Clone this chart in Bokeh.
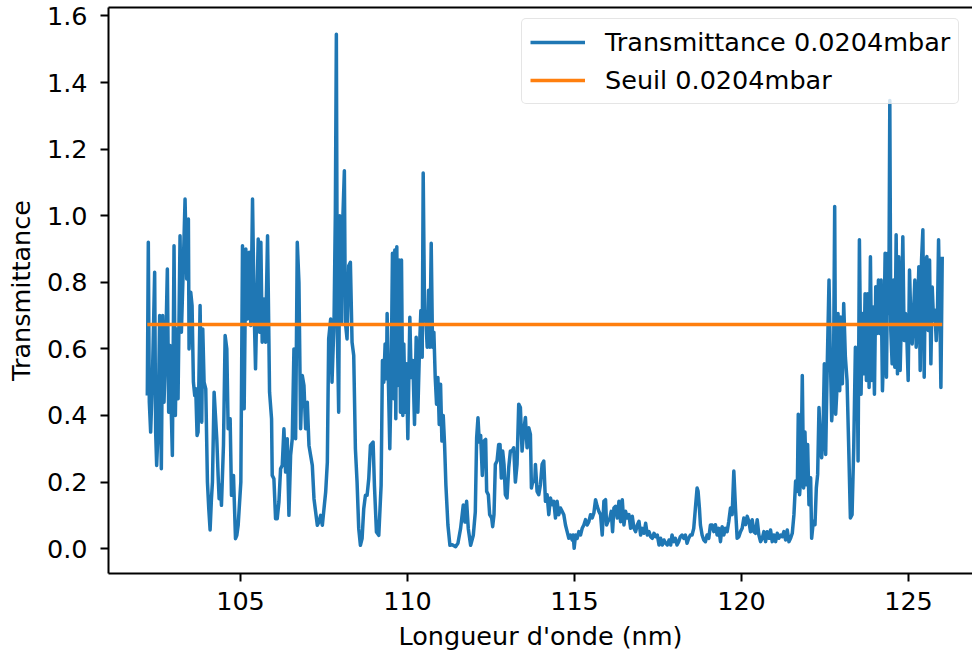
from bokeh.plotting import figure
from bokeh.models import FixedTicker, LinearAxis, Legend, LegendItem, Range1d
from bokeh.embed import file_html
from bokeh.resources import INLINE

# ---- data ----
wavelength_nm = [
    102.21, 102.24, 102.27, 102.31, 102.36, 102.43, 102.46, 102.49, 102.53, 102.58,
    102.63, 102.67, 102.71, 102.76, 102.81, 102.85, 102.89, 102.93, 102.96, 103.01,
    103.05, 103.09, 103.13, 103.19, 103.23, 103.28, 103.34, 103.39, 103.44, 103.46,
    103.51, 103.55, 103.59, 103.63, 103.66, 103.70, 103.73, 103.79, 103.84, 103.87,
    103.91, 103.96, 104.01, 104.05, 104.09, 104.13, 104.16, 104.21, 104.25, 104.29,
    104.33, 104.36, 104.40, 104.43, 104.49, 104.54, 104.59, 104.63, 104.69, 104.73,
    104.79, 104.85, 104.89, 104.93, 105.01, 105.06, 105.11, 105.16, 105.21, 105.26,
    105.31, 105.36, 105.41,
    105.45, 105.53, 105.57, 105.61, 105.65, 105.70, 105.75, 105.81, 105.85, 105.87,
    105.93, 105.95, 106.00, 106.05, 106.10, 106.15, 106.20, 106.25, 106.30, 106.35,
    106.40, 106.45, 106.50, 106.55, 106.60, 106.65, 106.70, 106.75, 106.80, 106.85,
    106.90, 106.95, 107.00, 107.05, 107.10, 107.15, 107.20, 107.25, 107.30, 107.35,
    107.40, 107.45, 107.50, 107.55, 107.60, 107.64, 107.70, 107.74, 107.80, 107.84,
    107.87, 107.90, 107.94, 107.97, 108.02, 108.06, 108.11, 108.14, 108.19, 108.24,
    108.29, 108.34, 108.39, 108.44, 108.49, 108.54, 108.59, 108.64, 108.69, 108.74,
    108.79, 108.84,
    108.89, 108.97, 109.01, 109.07, 109.14, 109.21, 109.25, 109.29, 109.33, 109.37,
    109.39, 109.43, 109.47, 109.51, 109.55, 109.59, 109.62, 109.65, 109.68, 109.71,
    109.75, 109.79, 109.82, 109.86, 109.89, 109.93, 109.97, 110.01, 110.07, 110.11,
    110.16, 110.21, 110.26, 110.31, 110.36, 110.40, 110.44, 110.47, 110.51, 110.55,
    110.59, 110.63, 110.67, 110.71, 110.75, 110.79, 110.83, 110.87, 110.91, 110.95,
    110.99, 111.03, 111.07, 111.11, 111.15, 111.21, 111.27, 111.34, 111.44, 111.51,
    111.59, 111.67, 111.72, 111.77, 111.82, 111.89, 111.97, 112.03, 112.07, 112.11,
    112.15, 112.19, 112.24, 112.29,
    112.34, 112.37, 112.42, 112.46, 112.52, 112.55, 112.59, 112.63, 112.68, 112.73,
    112.77, 112.81, 112.85, 112.89, 112.93, 112.98, 113.03, 113.08, 113.13, 113.18,
    113.23, 113.28, 113.33, 113.38, 113.43, 113.48, 113.53, 113.58, 113.63, 113.68,
    113.71, 113.75, 113.81, 113.83, 113.88, 113.93, 113.98, 114.03, 114.08, 114.13,
    114.18, 114.23, 114.28, 114.33, 114.38, 114.43, 114.48, 114.53, 114.58, 114.63,
    114.68, 114.73, 114.78, 114.83, 114.88, 114.93, 114.96, 114.99, 115.03, 115.08,
    115.13, 115.18, 115.23, 115.28, 115.33, 115.38, 115.43, 115.48, 115.53, 115.58,
    115.63, 115.68, 115.73,
    115.78, 115.83, 115.88, 115.93, 115.96, 116.00, 116.06, 116.10, 116.14, 116.18,
    116.23, 116.28, 116.33, 116.38, 116.43, 116.48, 116.53, 116.58, 116.63, 116.68,
    116.73, 116.78, 116.83, 116.88, 116.93, 116.98, 117.03, 117.08, 117.13, 117.18,
    117.23, 117.28, 117.33, 117.38, 117.43, 117.48, 117.53, 117.58, 117.63, 117.68,
    117.73, 117.78, 117.83, 117.88, 117.92, 117.97, 118.02, 118.07, 118.12, 118.17,
    118.22, 118.27, 118.32, 118.37, 118.42, 118.47, 118.52, 118.57, 118.62, 118.67,
    118.70, 118.74, 118.77, 118.82, 118.87, 118.92, 118.97, 119.02, 119.07, 119.12,
    119.17,
    119.22, 119.27, 119.32, 119.37, 119.42, 119.47, 119.52, 119.57, 119.62, 119.67,
    119.72, 119.77, 119.82, 119.87, 119.92, 119.97, 120.02, 120.07, 120.12, 120.17,
    120.22, 120.27, 120.32, 120.37, 120.42, 120.47, 120.52, 120.57, 120.62, 120.67,
    120.72, 120.77, 120.82, 120.87, 120.92, 120.97, 121.02, 121.07, 121.12, 121.17,
    121.22, 121.27, 121.32, 121.37, 121.42, 121.47, 121.52, 121.57, 121.62, 121.67,
    121.70, 121.74, 121.78, 121.82, 121.86, 121.90, 121.94, 121.98, 122.02, 122.07,
    122.10, 122.15, 122.20, 122.24, 122.28, 122.32, 122.37, 122.40, 122.44, 122.48,
    122.52, 122.57, 122.62, 122.65,
    122.70, 122.75, 122.79, 122.82, 122.85, 122.89, 122.94, 122.97, 123.02, 123.06,
    123.11, 123.16, 123.21, 123.26, 123.31, 123.36, 123.41, 123.46, 123.49, 123.53,
    123.58, 123.62, 123.66, 123.70, 123.74, 123.78, 123.82, 123.86, 123.90, 123.94,
    123.98, 124.02, 124.06, 124.10, 124.14, 124.18, 124.22, 124.26, 124.30, 124.34,
    124.38, 124.41, 124.44, 124.47, 124.51, 124.55, 124.59, 124.63, 124.67, 124.71,
    124.75, 124.79, 124.83, 124.87, 124.91, 124.95, 124.99, 125.03, 125.07, 125.11,
    125.15, 125.19, 125.23, 125.27, 125.31, 125.35, 125.39, 125.43, 125.47, 125.51,
    125.55, 125.59, 125.63, 125.67, 125.71, 125.75, 125.79, 125.83, 125.87, 125.90,
    125.94, 125.97, 126.01,
]

transmittance = [
    0.46, 0.92, 0.44, 0.35, 0.50, 0.83, 0.35, 0.25, 0.35, 0.70,
    0.24, 0.70, 0.44, 0.60, 0.84, 0.41, 0.61, 0.40, 0.28, 0.91,
    0.40, 0.66, 0.45, 0.94, 0.65, 0.82, 1.05, 0.81, 0.99, 0.60,
    0.77, 0.73, 0.50, 0.46, 0.48, 0.34, 0.35, 0.73, 0.38, 0.66,
    0.50, 0.48, 0.20, 0.12, 0.056, 0.15, 0.20, 0.47, 0.40, 0.33,
    0.22, 0.15, 0.19, 0.13, 0.31, 0.64, 0.60, 0.36, 0.39, 0.16,
    0.22, 0.03, 0.04, 0.07, 0.20, 0.91, 0.42, 0.90, 0.69, 0.89,
    0.67, 1.05, 0.71,
    0.54, 0.93, 0.65, 0.92, 0.62, 0.75, 0.62, 0.94, 0.63, 0.47,
    0.39, 0.22, 0.21, 0.09, 0.09, 0.14, 0.24, 0.25, 0.36, 0.23,
    0.33, 0.10, 0.28, 0.33, 0.60, 0.33, 0.92, 0.80, 0.36, 0.52,
    0.49, 0.36, 0.44, 0.31, 0.28, 0.25, 0.15, 0.11, 0.07, 0.08,
    0.10, 0.07, 0.12, 0.17, 0.26, 0.63, 0.69, 0.50, 0.68, 1.01,
    1.545, 0.65, 0.41, 1.00, 0.68, 0.98, 1.135, 0.68, 0.63, 0.85,
    0.86, 0.62, 0.58, 0.30, 0.20, 0.06, 0.01, 0.03, 0.12, 0.16,
    0.16, 0.21,
    0.31, 0.32, 0.19, 0.05, 0.04, 0.19, 0.565, 0.50, 0.615, 0.51,
    0.706, 0.494, 0.30, 0.51, 0.887, 0.45, 0.897, 0.39, 0.907, 0.49,
    0.867, 0.41, 0.867, 0.40, 0.615, 0.41, 0.555, 0.33, 0.695, 0.514,
    0.565, 0.373, 0.635, 0.41, 0.605, 0.715, 0.575, 1.128, 0.715, 0.685,
    0.605, 0.776, 0.605, 0.917, 0.605, 0.65, 0.514, 0.434, 0.514, 0.373,
    0.494, 0.323, 0.40, 0.313, 0.19, 0.071, 0.01, 0.012, 0.006, 0.016,
    0.061, 0.131, 0.08, 0.142, 0.06, 0.01, 0.04, 0.11, 0.333, 0.393,
    0.32, 0.34, 0.22, 0.323,
    0.328, 0.172, 0.162, 0.102, 0.092, 0.066, 0.102, 0.253, 0.263, 0.313,
    0.313, 0.212, 0.293, 0.253, 0.162, 0.152, 0.243, 0.293, 0.293, 0.303,
    0.20, 0.253, 0.434, 0.424, 0.293, 0.354, 0.394, 0.303, 0.363, 0.343,
    0.182, 0.202, 0.202, 0.253, 0.172, 0.162, 0.192, 0.253, 0.263, 0.142,
    0.162, 0.102, 0.152, 0.132, 0.142, 0.092, 0.142, 0.102, 0.122, 0.112,
    0.102, 0.071, 0.051, 0.031, 0.041, 0.026, 0.041, 0.001, 0.041, 0.031,
    0.051, 0.041, 0.061, 0.071, 0.087, 0.071, 0.081, 0.102, 0.092, 0.107,
    0.147, 0.127, 0.112,
    0.102, 0.041, 0.142, 0.147, 0.071, 0.081, 0.092, 0.112, 0.051, 0.122,
    0.127, 0.092, 0.142, 0.081, 0.147, 0.071, 0.112, 0.092, 0.102, 0.061,
    0.097, 0.061, 0.051, 0.071, 0.082, 0.041, 0.061, 0.046, 0.076, 0.041,
    0.051, 0.036, 0.031, 0.046, 0.036, 0.041, 0.011, 0.031, 0.011, 0.026,
    0.016, 0.011, 0.026, 0.011, 0.041, 0.021, 0.031, 0.011, 0.021, 0.036,
    0.041, 0.031, 0.041, 0.016, 0.031, 0.041, 0.041, 0.061, 0.122, 0.182,
    0.172, 0.122, 0.071, 0.041, 0.026, 0.021, 0.041, 0.031, 0.071, 0.071,
    0.051,
    0.072, 0.041, 0.061, 0.021, 0.066, 0.041, 0.061, 0.051, 0.082, 0.122,
    0.102, 0.233, 0.122, 0.031, 0.036, 0.051, 0.061, 0.092, 0.072, 0.097,
    0.082, 0.051, 0.087, 0.051, 0.046, 0.087, 0.041, 0.021, 0.031, 0.051,
    0.021, 0.051, 0.031, 0.056, 0.021, 0.041, 0.021, 0.046, 0.031, 0.041,
    0.036, 0.051, 0.026, 0.056, 0.021, 0.031, 0.046, 0.102, 0.203, 0.172,
    0.404, 0.162, 0.223, 0.52, 0.182, 0.35, 0.192, 0.313, 0.132, 0.213,
    0.031, 0.082, 0.072, 0.182, 0.223, 0.424, 0.303, 0.273, 0.343, 0.555,
    0.283, 0.565, 0.807, 0.625,
    0.384, 0.464, 1.028, 0.404, 0.464, 0.706, 0.474, 0.696, 0.495, 0.736,
    0.575, 0.505, 0.303, 0.092, 0.102, 0.303, 0.605, 0.585, 0.263, 0.928,
    0.464, 0.706, 0.525, 0.766, 0.505, 0.766, 0.484, 0.877, 0.505, 0.726,
    0.464, 0.787, 0.646, 0.807, 0.646, 0.807, 0.474, 0.615, 0.887, 0.515,
    0.887, 0.706, 1.346, 0.656, 0.555, 0.807, 0.545, 0.943, 0.525, 0.877,
    0.535, 0.706, 0.937, 0.625, 0.706, 0.635, 0.505, 0.837, 0.686, 0.615,
    0.706, 0.807, 0.605, 0.706, 0.847, 0.535, 0.867, 0.958, 0.515, 0.867,
    0.877, 0.655, 0.867, 0.555, 0.786, 0.686, 0.716, 0.625, 0.726, 0.928,
    0.706, 0.484, 0.877,
]

seuil = 0.673
series_labels = ["Transmittance 0.0204mbar", "Seuil 0.0204mbar"]
x_ticks = [105, 110, 115, 120, 125]
y_ticks = [0.0, 0.2, 0.4, 0.6, 0.8, 1.0, 1.2, 1.4, 1.6]
y_tick_labels = ["0.0", "0.2", "0.4", "0.6", "0.8", "1.0", "1.2", "1.4", "1.6"]
x_label = "Longueur d'onde (nm)"
y_label = "Transmittance"

FONT = "DejaVu Sans"
FS = "25.5px"

p = figure(
    frame_width=864, frame_height=566,
    x_range=Range1d(101.048, 126.916), y_range=Range1d(-0.0747, 1.6255),
    output_backend="svg", toolbar_location=None,
    min_border_left=108, min_border_right=0, min_border_top=7, min_border_bottom=81,
)
p.xgrid.visible = False
p.ygrid.visible = False
p.outline_line_color = None
p.background_fill_color = "white"

for ax in (p.xaxis[0], p.yaxis[0]):
    ax.axis_line_width = 2
    ax.axis_line_color = "black"
    ax.major_tick_line_width = 2
    ax.major_tick_out = 8
    ax.major_tick_in = 0
    ax.minor_tick_out = 0
    ax.minor_tick_in = 0
    ax.major_label_text_font = FONT
    ax.major_label_text_font_size = FS
    ax.major_label_text_color = "black"
    ax.axis_label_text_font = FONT
    ax.axis_label_text_font_size = FS
    ax.axis_label_text_font_style = "normal"
    ax.axis_label_text_color = "black"

p.xaxis[0].ticker = FixedTicker(ticks=x_ticks)
p.xaxis[0].major_label_standoff = 10
p.xaxis[0].axis_label = x_label
p.xaxis[0].axis_label_standoff = 8

p.yaxis[0].ticker = FixedTicker(ticks=y_ticks)
p.yaxis[0].major_label_overrides = {t: l for t, l in zip(y_ticks, y_tick_labels)}
p.yaxis[0].major_label_standoff = 13
p.yaxis[0].axis_label = y_label
p.yaxis[0].axis_label_standoff = 8

top = LinearAxis(ticker=FixedTicker(ticks=[]), major_tick_out=0, major_tick_in=0,
                 minor_tick_out=0, minor_tick_in=0, major_label_text_font_size="0px",
                 axis_line_width=2, axis_line_color="black")
p.add_layout(top, "above")

r1 = p.line(wavelength_nm, transmittance, line_color="#1f77b4", line_width=3.5,
            line_join="round")
r2 = p.line([wavelength_nm[0], wavelength_nm[-1]], [seuil, seuil],
            line_color="#ff7f0e", line_width=3.5)

legend = Legend(
    items=[LegendItem(label=series_labels[0], renderers=[r1]),
           LegendItem(label=series_labels[1], renderers=[r2])],
    location=(413, 469), margin=0, padding=8, spacing=8,
    glyph_width=55, glyph_height=20, label_standoff=20,
    label_text_font=FONT, label_text_font_size=FS, label_text_color="black",
    border_line_color="#cccccc", border_line_width=1.5, border_radius=5,
    background_fill_color="white", background_fill_alpha=0.8,
)
p.add_layout(legend)

open("out.html", "w").write(file_html(p, INLINE))
